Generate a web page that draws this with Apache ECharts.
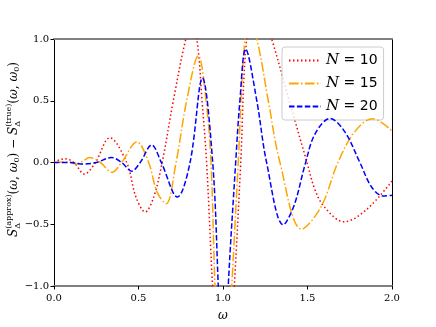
<!DOCTYPE html>
<html>
<head>
<meta charset="utf-8">
<script src="https://cdn.jsdelivr.net/npm/echarts@6/dist/echarts.min.js"></script>
<style>
  html, body { margin: 0; padding: 0; background: #fff; }
  #chart { width: 436px; height: 327px; }
</style>
</head>
<body>
<div id="chart"></div>
<script>
// N = 10
const omegaN10 = [0, 0.03, 0.067, 0.117, 0.18, 0.245, 0.33, 0.43, 0.485, 0.54, 0.59, 0.64, 0.706, 0.78, 0.812, 0.845, 0.876, 0.903, 0.938, 1.0, 1.067, 1.105, 1.14, 1.2, 1.288, 1.392, 1.497, 1.544, 1.6, 1.715, 1.85, 2.0]
const valN10 = [0, 0.02, 0.03, 0, -0.093, 0, 0.2, 0, -0.28, -0.4, -0.28, 0, 0.5, 1.0, 1.1, 1.0, 0.5, 0, -1.0, -2.5, -1.0, 0, 1.0, 1.35, 1.0, 0.5, 0, -0.22, -0.36, -0.48, -0.38, -0.15]
// N = 15
const omegaN15 = [0, 0.08, 0.13, 0.17, 0.21, 0.275, 0.343, 0.40, 0.49, 0.56, 0.61, 0.663, 0.722, 0.785, 0.854, 0.9, 0.929, 0.953, 1.0, 1.052, 1.09, 1.13, 1.165, 1.2, 1.268, 1.337, 1.466, 1.58, 1.68, 1.78, 1.885, 2.0]
const valN15 = [0, 0.005, -0.013, 0.01, 0.04, 0, -0.08, 0, 0.167, 0, -0.24, -0.335, 0, 0.5, 0.865, 0.5, 0, -1, -2.3, -1, 0, 1, 1.08, 1, 0.5, 0, -0.54, -0.36, 0, 0.25, 0.355, 0.255]
// N = 20
const omegaN20 = [0, 0.1, 0.17, 0.25, 0.34, 0.40, 0.46, 0.51, 0.578, 0.635, 0.73, 0.805, 0.878, 0.939, 0.972, 1.0, 1.031, 1.075, 1.1, 1.134, 1.2, 1.258, 1.357, 1.42, 1.485, 1.544, 1.633, 1.72, 1.81, 1.88, 1.95, 2.0]
const valN20 = [0, 0, -0.013, 0, 0.04, 0, -0.07, 0, 0.142, 0, -0.28, 0, 0.685, 0, -1, -2.0, -1, 0, 0.5, 0.918, 0.5, 0, -0.505, -0.35, -0.02, 0.23, 0.357, 0.25, 0, -0.2, -0.272, -0.265]

const seriesNames = ['N = 10', 'N = 15', 'N = 20']
const seriesColors = ['#ff0000', '#ffa500', '#0000ff']
const seriesDash = [[1.5, 2.5], [9.6, 2.4, 1.5, 2.4], [5.5, 2.4]]

const pairs = (xs, ys) => xs.map((x, i) => [x, ys[i]])
const allData = [pairs(omegaN10, valN10), pairs(omegaN15, valN15), pairs(omegaN20, valN20)]

// y label built piece by piece (sup/sub stacked)
const serif = 'DejaVu Serif'
const ctx = document.createElement('canvas').getContext('2d')
function measure(text, size, italic) {
  ctx.font = (italic ? 'italic ' : '') + size + 'px "' + serif + '"'
  return ctx.measureText(text).width
}
function yLabel() {
  const big = 12, small = 8
  const parts = []
  let x = 0
  function add(text, size, italic, dy) {
    parts.push({ text, size, italic, x, dy })
    x += measure(text, size, italic)
  }
  function stack(sup, sub) {
    const w1 = measure(sup, small, false), w2 = measure(sub, small, false)
    parts.push({ text: sup, size: small, italic: false, x, dy: -5 })
    parts.push({ text: sub, size: small, italic: false, x, dy: 4 })
    x += Math.max(w1, w2)
  }
  add('S', big, true, 0)
  stack('(approx)', 'Δ')
  add('(', big, false, 0); add('ω', big, true, 0); add(', ', big, false, 0); add('ω', big, true, 0)
  add('0', small, false, 3); add(')', big, false, 0)
  add(' − ', big, false, 0)
  add('S', big, true, 0)
  stack('(true)', 'Δ')
  add('(', big, false, 0); add('ω', big, true, 0); add(', ', big, false, 0); add('ω', big, true, 0)
  add('0', small, false, 3); add(')', big, false, 0)
  const total = x
  return {
    type: 'group',
    left: 5,
    top: 62,
    rotation: Math.PI / 2,
    children: [{
      type: 'group',
      position: [-total, 0],
      children: parts.map(p => ({
        type: 'text',
        x: p.x,
        y: p.dy,
        style: {
          text: p.text,
          font: (p.italic ? 'italic ' : '') + p.size + 'px "' + serif + '"',
          fill: '#000',
          verticalAlign: 'middle'
        }
      }))
    }]
  }
}

const chart = echarts.init(document.getElementById('chart'))
const minus = v => v.toFixed(1).replace('-', '\u2212')
chart.setOption({
  animation: false,
  backgroundColor: '#fff',
  grid: { left: 54, right: 44, top: 39, bottom: 36 },
  legend: {
    data: seriesNames,
    orient: 'vertical',
    left: 282,
    top: 47,
    itemWidth: 32,
    itemHeight: 10,
    itemGap: 8,
    padding: [6, 6, 6, 6],
    borderColor: '#cccccc',
    borderWidth: 1,
    borderRadius: 3,
    backgroundColor: 'rgba(255,255,255,0.8)',
    itemStyle: { color: 'rgba(0,0,0,0)', borderColor: 'rgba(0,0,0,0)', borderWidth: 0 },
    formatter(name) {
      return '{i|N} = ' + name.split('= ')[1]
    },
    textStyle: {
      fontFamily: 'DejaVu Sans',
      fontSize: 14,
      color: '#000',
      rich: { i: { fontFamily: serif, fontStyle: 'italic', fontSize: 15 } }
    }
  },
  xAxis: [{
    type: 'value',
    min: 0,
    max: 2,
    interval: 0.5,
    name: 'ω',
    nameLocation: 'middle',
    nameGap: 24,
    nameTextStyle: { fontFamily: serif, fontStyle: 'italic', fontSize: 12, color: '#000' },
    axisLine: { onZero: false, lineStyle: { color: '#808080', width: 2 } },
    axisTick: { show: true, inside: false, length: 3.5, lineStyle: { color: '#000' } },
    axisLabel: { fontFamily: serif, fontSize: 10, color: '#000', margin: 7, formatter: v => v.toFixed(1) },
    splitLine: { show: false }
  }, {
    type: 'value',
    position: 'top',
    min: 0,
    max: 2,
    axisLine: { onZero: false, lineStyle: { color: '#808080', width: 2 } },
    axisTick: { show: false },
    axisLabel: { show: false },
    splitLine: { show: false }
  }],
  yAxis: [{
    type: 'value',
    min: -1,
    max: 1,
    interval: 0.5,
    axisLine: { show: true, onZero: false, lineStyle: { color: '#000', width: 1 } },
    axisTick: { show: true, inside: false, length: 3.5, lineStyle: { color: '#000' } },
    axisLabel: { fontFamily: serif, fontSize: 10, color: '#000', margin: 5, formatter: minus },
    splitLine: { show: false }
  }, {
    type: 'value',
    position: 'right',
    min: -1,
    max: 1,
    axisLine: { show: true, onZero: false, lineStyle: { color: '#000', width: 1 } },
    axisTick: { show: false },
    axisLabel: { show: false },
    splitLine: { show: false }
  }],
  graphic: [yLabel()],
  series: seriesNames.map((name, i) => ({
    name,
    type: 'line',
    data: allData[i],
    smooth: 0.35,
    showSymbol: false,
    symbol: 'none',
    clip: true,
    z: 3 + i,
    itemStyle: { color: seriesColors[i] },
    lineStyle: { color: seriesColors[i], width: 1.5, type: seriesDash[i] }
  }))
})
</script>
</body>
</html>
